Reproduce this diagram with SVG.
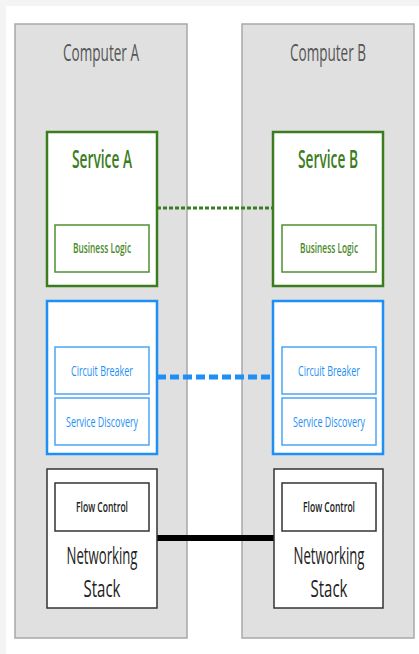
<svg xmlns="http://www.w3.org/2000/svg" width="419" height="654" viewBox="0 0 419 654">
<style>
.computer{fill:#e0e0e0;stroke:#a8a8a8;stroke-width:1.5}
.title{font-family:"Open Sans","Liberation Sans",sans-serif;font-size:24px;fill:#555;text-anchor:middle}
.svc{fill:#fff;stroke:#3b7d1e;stroke-width:2.5}
.svcT{font-family:"Open Sans","Liberation Sans",sans-serif;font-size:25px;font-weight:600;fill:#3b7d1e;text-anchor:middle}
.bl{fill:#fff;stroke:#4f8f30;stroke-width:1.5}
.blT{font-family:"Open Sans","Liberation Sans",sans-serif;font-size:15px;font-weight:600;fill:#4a8a2a;text-anchor:middle}
.mesh{fill:#fff;stroke:#1e8ff5;stroke-width:2.5}
.sub{fill:#fff;stroke:#4aa6f7;stroke-width:1.5}
.subT{font-family:"Open Sans","Liberation Sans",sans-serif;font-size:15px;fill:#1e8ff5;text-anchor:middle}
.net{fill:#fff;stroke:#333;stroke-width:1.5}
.fc{fill:#fff;stroke:#333;stroke-width:1.5}
.fcT{font-family:"Open Sans","Liberation Sans",sans-serif;font-size:15px;font-weight:600;fill:#222;text-anchor:middle}
.netT{font-family:"Open Sans","Liberation Sans",sans-serif;font-size:23px;fill:#222;text-anchor:middle}
</style>
<rect x="0" y="0" width="419" height="654" fill="#f4f4f4"/>
<rect x="6" y="6" width="413" height="648" fill="#fff"/>
<g id="computer-a">
<rect class="computer" x="15" y="24" width="172" height="614"/>
<text class="title" x="101" y="61" textLength="76" lengthAdjust="spacingAndGlyphs">Computer A</text>
</g>
<g id="computer-b">
<rect class="computer" x="242" y="24" width="172" height="614"/>
<text class="title" x="328" y="61" textLength="76" lengthAdjust="spacingAndGlyphs">Computer B</text>
</g>
<g id="connectors">
<line x1="157" y1="208" x2="273" y2="208" stroke="#3b7d1e" stroke-width="3" stroke-dasharray="4,2"/>
<line x1="157" y1="377" x2="273" y2="377" stroke="#1e8ff5" stroke-width="5" stroke-dasharray="9,4"/>
<line x1="157" y1="538" x2="274" y2="538" stroke="#000" stroke-width="6"/>
</g>
<g id="service-a">
<rect class="svc" x="47" y="132" width="110" height="154"/>
<text class="svcT" x="102" y="168" textLength="60" lengthAdjust="spacingAndGlyphs">Service A</text>
</g>
<g id="business-logic-a">
<rect class="bl" x="55" y="225" width="94" height="47"/>
<text class="blT" x="102" y="253" textLength="58" lengthAdjust="spacingAndGlyphs">Business Logic</text>
</g>
<g id="service-b">
<rect class="svc" x="273" y="132" width="110" height="154"/>
<text class="svcT" x="328" y="168" textLength="60" lengthAdjust="spacingAndGlyphs">Service B</text>
</g>
<g id="business-logic-b">
<rect class="bl" x="282" y="225" width="94" height="47"/>
<text class="blT" x="329" y="253" textLength="58" lengthAdjust="spacingAndGlyphs">Business Logic</text>
</g>
<g id="sidecar-a">
<rect class="mesh" x="47" y="301" width="110" height="153"/>
</g>
<g id="circuit-breaker-a">
<rect class="sub" x="55" y="347" width="94" height="47"/>
<text class="subT" x="102" y="376" textLength="62" lengthAdjust="spacingAndGlyphs">Circuit Breaker</text>
</g>
<g id="service-discovery-a">
<rect class="sub" x="55" y="398" width="94" height="47"/>
<text class="subT" x="102" y="427" textLength="72" lengthAdjust="spacingAndGlyphs">Service Discovery</text>
</g>
<g id="sidecar-b">
<rect class="mesh" x="273" y="301" width="110" height="153"/>
</g>
<g id="circuit-breaker-b">
<rect class="sub" x="282" y="347" width="94" height="47"/>
<text class="subT" x="329" y="376" textLength="62" lengthAdjust="spacingAndGlyphs">Circuit Breaker</text>
</g>
<g id="service-discovery-b">
<rect class="sub" x="282" y="398" width="94" height="47"/>
<text class="subT" x="329" y="427" textLength="72" lengthAdjust="spacingAndGlyphs">Service Discovery</text>
</g>
<g id="networking-a">
<rect class="net" x="47" y="469" width="110" height="139"/>
<text class="netT" x="102" y="564" textLength="71" lengthAdjust="spacingAndGlyphs">Networking</text>
<text class="netT" x="102" y="597" textLength="37" lengthAdjust="spacingAndGlyphs">Stack</text>
</g>
<g id="flow-control-a">
<rect class="fc" x="55" y="483" width="94" height="48"/>
<text class="fcT" x="102" y="512" textLength="52" lengthAdjust="spacingAndGlyphs">Flow Control</text>
</g>
<g id="networking-b">
<rect class="net" x="274" y="469" width="109" height="139"/>
<text class="netT" x="329" y="564" textLength="71" lengthAdjust="spacingAndGlyphs">Networking</text>
<text class="netT" x="329" y="597" textLength="37" lengthAdjust="spacingAndGlyphs">Stack</text>
</g>
<g id="flow-control-b">
<rect class="fc" x="282" y="483" width="94" height="48"/>
<text class="fcT" x="329" y="512" textLength="52" lengthAdjust="spacingAndGlyphs">Flow Control</text>
</g>
</svg>
